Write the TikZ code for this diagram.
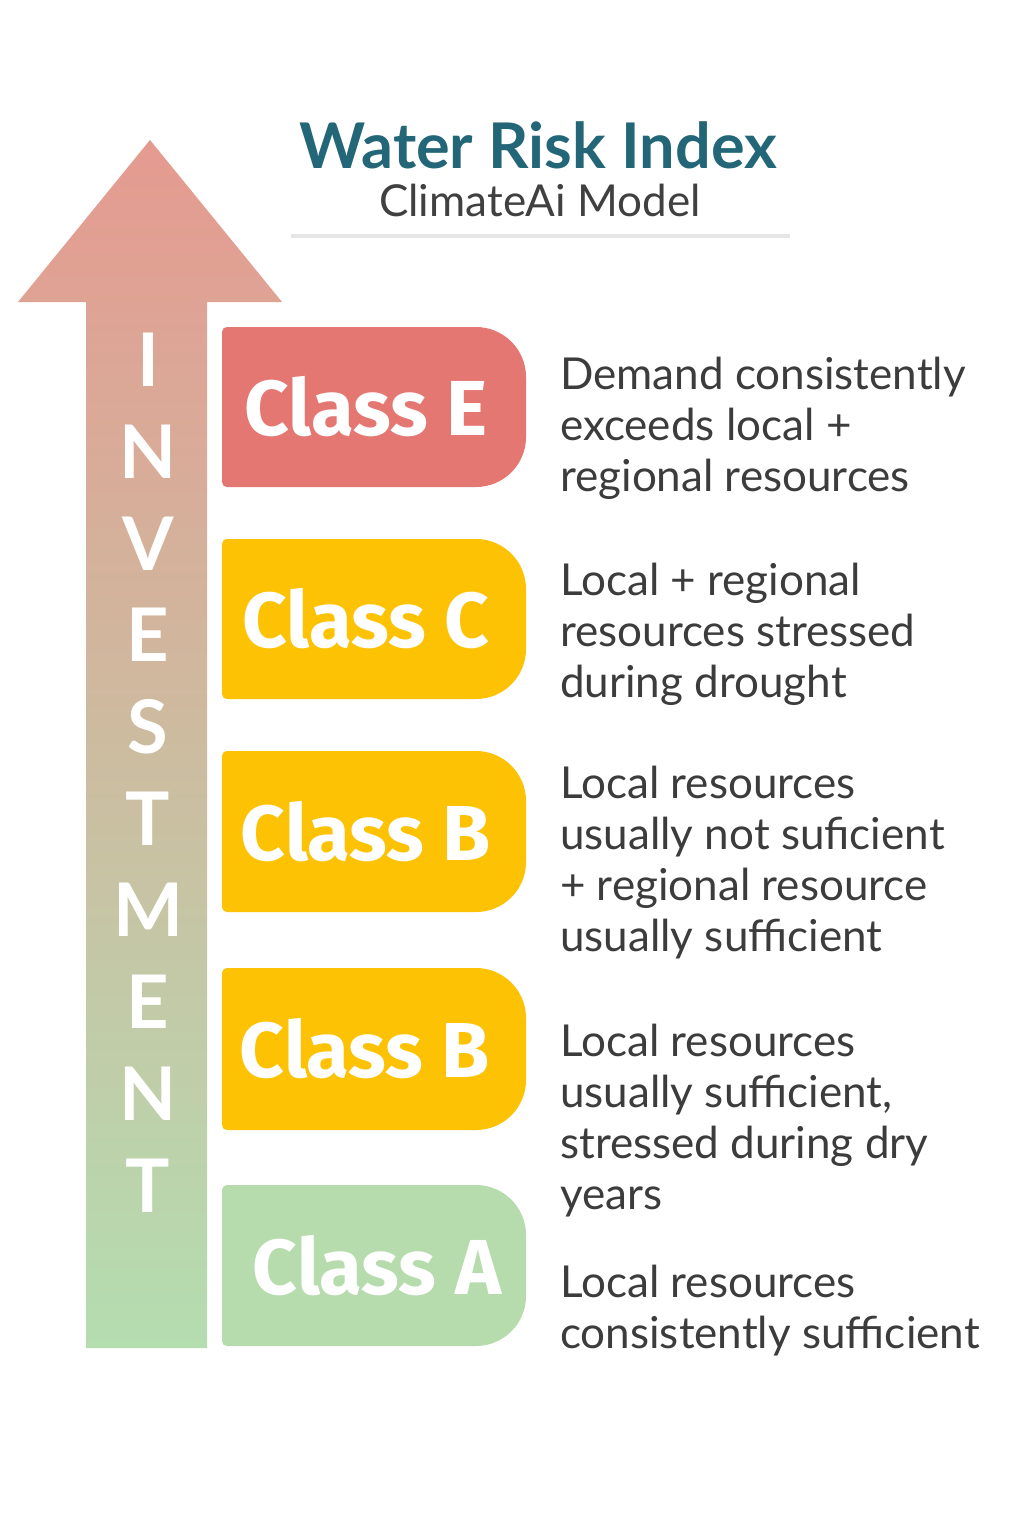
\documentclass[tikz,border=0pt]{standalone}
\usepackage{fontspec}
\setmainfont{Lato}
\newfontfamily\firaf{Fira Sans}
\definecolor{teal}{HTML}{236677}
\definecolor{txtgrey}{HTML}{3C3C3C}
\definecolor{subgrey}{HTML}{404040}
\definecolor{rulegrey}{HTML}{E6E6E6}
\definecolor{cE}{HTML}{E57773}
\definecolor{cY}{HTML}{FDC204}
\definecolor{cA}{HTML}{B6DCAE}
\definecolor{artop}{HTML}{E59A90}
\definecolor{arbot}{HTML}{B4DDB0}
\newcommand\clsbox[6]{% name, ytop, ybot, color, text, xcenter
  \fill[#4] (227,{-#2}) -- (476,{-#2}) arc[start angle=90,end angle=0,radius=50]
    -- (526,{-#3+50}) arc[start angle=0,end angle=-90,radius=50]
    -- (227,{-#3}) arc[start angle=270,end angle=180,radius=5]
    -- (222,{-#2-5}) arc[start angle=180,end angle=90,radius=5] -- cycle;
  \node[clstext] (#1) at (#6,{-(#2+#3)/2}) {#5};
}
\begin{document}
\begin{tikzpicture}[x=1pt,y=1pt,
  clstext/.style={font=\firaf\bfseries\fontsize{78}{78}\selectfont, text=white, inner sep=0pt},
  desc/.style={font=\fontsize{44}{51}\selectfont, text=txtgrey, align=left, anchor=west, inner sep=0pt},
  letter/.style={font=\bfseries\fontsize{74}{74}\selectfont, text=white, inner sep=0pt}]
\useasboundingbox (0,0) rectangle (1024,-1536);
\fill[white] (0,0) rectangle (1024,-1536);
% title
\node[font=\bfseries\fontsize{63}{63}\selectfont, text=teal, inner sep=0pt] (title) at (538,-145) {Water Risk Index};
\node[font=\fontsize{44}{44}\selectfont, text=subgrey, inner sep=0pt] (subtitle) at (540,-200) {ClimateAi Model};
\draw[rulegrey, line width=4] (291,-236) -- (790,-236);
% arrow
\shade[top color=artop, bottom color=arbot]
  (150,-140) -- (282,-302) -- (207,-302) -- (207,-1348) -- (86,-1348) -- (86,-302) -- (18,-302) -- cycle;
\foreach \L [count=\i from 0] in {I,N,V,E,S,T,M,E,N,T} {
  \node[letter] (l\i) at (148,{-360-91.7*\i}) {\L};
}
% boxes
\clsbox{cE}{327}{487}{cE}{Class E}{366}
\clsbox{cC}{539}{699}{cY}{Class C}{366}
\clsbox{cB}{751}{912}{cY}{Class B}{366}
\clsbox{cBB}{968}{1130}{cY}{Class B}{365}
\clsbox{cAA}{1185}{1346}{cA}{Class A}{377}
% descriptions
\node[desc] (dE) at (560,-428) {Demand consistently\\exceeds local +\\regional resources};
\node[desc] (dC) at (560,-634) {Local + regional\\resources stressed\\during drought};
\node[desc] (dB) at (560,-863) {Local resources\\usually not suficient\\+ regional resource\\usually sufficient};
\node[desc] (dBB) at (560,-1121) {Local resources\\usually sufficient,\\stressed during dry\\years};
\node[desc] (dA) at (560,-1311) {Local resources\\consistently sufficient};
\end{tikzpicture}
\end{document}
